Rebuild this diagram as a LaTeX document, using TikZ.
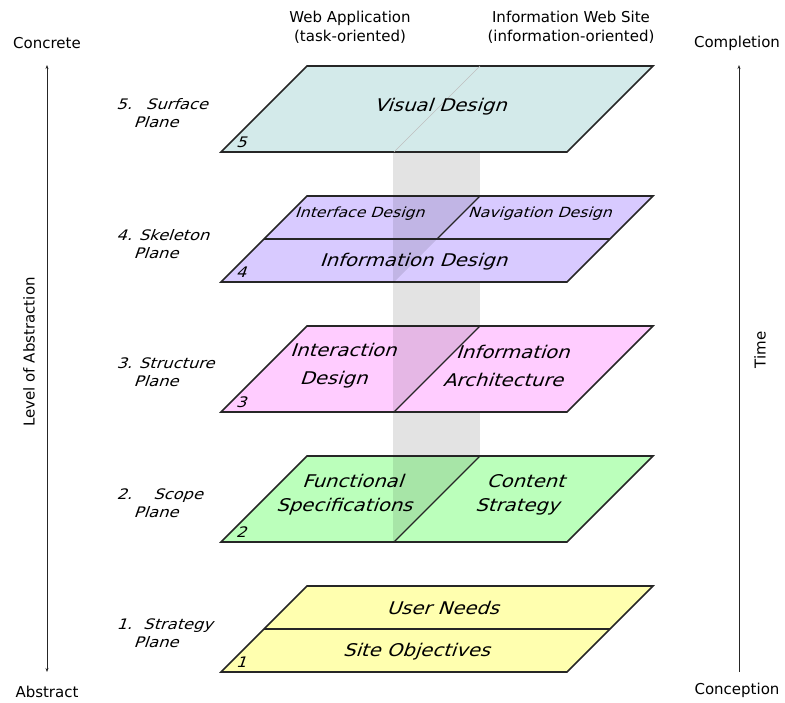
\documentclass[tikz,border=0pt]{standalone}
\usepackage{fontspec}
\setmainfont{DejaVu Sans}
\usetikzlibrary{arrows.meta}

\definecolor{surfacecol}{RGB}{211,234,234}
\definecolor{skeletoncol}{RGB}{216,202,255}
\definecolor{structurecol}{RGB}{255,204,255}
\definecolor{scopecol}{RGB}{187,255,187}
\definecolor{strategycol}{RGB}{255,255,175}
\definecolor{columncol}{RGB}{227,227,227}

\tikzset{
	plane/.style={draw=black!85, line width=1.6pt},
	divider/.style={draw=black!85, line width=1.1pt},
	shade/.style={fill=black, fill opacity=0.1},
	planetext/.style={font=\fontsize{17.5}{24}\selectfont, xslant=0.35, xscale=1.12, align=center, inner sep=0pt},
	widetext/.style={planetext, font=\fontsize{17.5}{28}\selectfont},
	subtext/.style={planetext, font=\fontsize{14}{16}\selectfont},
	layerlabel/.style={font=\fontsize{14.5}{18}\selectfont, xslant=0.35, xscale=1.12, align=left, anchor=west, inner sep=0pt},
	planenum/.style={font=\fontsize{14.5}{18}\selectfont, xslant=0.35, xscale=1.12, inner sep=0pt},
	heading/.style={font=\fontsize{15}{19}\selectfont, align=center, inner sep=0pt},
	axis/.style={line width=0.8pt, black!85}
}

\begin{document}
\begin{tikzpicture}[x=1pt, y=-1pt]
\useasboundingbox (0,0) rectangle (785,702);

% column between the two sides
\fill[columncol] (393,152) rectangle (480,456);

% 5 surface
\filldraw[plane, fill=surfacecol] (307,66) -- (653,66) -- (567,152) -- (221,152) -- cycle;
\draw[black!25, line width=0.6pt] (480,66) -- (394,152);

% 4 skeleton
\filldraw[plane, fill=skeletoncol] (307,196) -- (653,196) -- (567,282) -- (221,282) -- cycle;
\fill[shade] (393,196) -- (480,196) -- (394,282) -- (393,282) -- cycle;
\draw[divider] (264,239) -- (610,239);
\draw[divider] (480,196) -- (437,239);

% 3 structure
\filldraw[plane, fill=structurecol] (307,326) -- (653,326) -- (567,412) -- (221,412) -- cycle;
\fill[shade] (393,326) -- (480,326) -- (394,412) -- (393,412) -- cycle;
\draw[divider] (480,326) -- (394,412);

% 2 scope
\filldraw[plane, fill=scopecol] (307,456) -- (653,456) -- (567,542) -- (221,542) -- cycle;
\fill[shade] (393,456) -- (480,456) -- (394,542) -- (393,542) -- cycle;
\draw[divider] (480,456) -- (394,542);

% 1 strategy
\filldraw[plane, fill=strategycol] (307,586) -- (653,586) -- (567,672) -- (221,672) -- cycle;
\draw[divider] (264,629) -- (610,629);

% texts on the planes
\node[planetext] (visual) at (442,107) {Visual Design};
\node[subtext] (interface) at (361,214) {Interface Design};
\node[subtext] (navigation) at (541,214) {Navigation Design};
\node[planetext] (infodesign) at (415,262) {Information Design};
\node[widetext] (interaction) at (340,366) {Interaction\\Design};
\node[widetext] (infoarch) at (510,366) {Information\\Architecture};
\node[planetext] (functional) at (350,495) {Functional\\Specifications};
\node[planetext] (content) at (523,495) {Content\\Strategy};
\node[planetext] (userneeds) at (445,608) {User Needs};
\node[planetext] (siteobj) at (418,652) {Site Objectives};

\node[planenum] (num5) at (243,142) {5};
\node[planenum] (num4) at (243,272) {4};
\node[planenum] (num3) at (243,402) {3};
\node[planenum] (num2) at (243,532) {2};
\node[planenum] (num1) at (243,662) {1};

% layer names
\node[layerlabel] (lbl5) at (115,113) {5.\hspace{12.5pt}Surface\\\hspace*{21pt}Plane};
\node[layerlabel] (lbl4) at (115,244) {4. Skeleton\\\hspace*{21pt}Plane};
\node[layerlabel] (lbl3) at (115,372) {3. Structure\\\hspace*{21pt}Plane};
\node[layerlabel] (lbl2) at (115,503) {2.\hspace{19pt}Scope\\\hspace*{21pt}Plane};
\node[layerlabel] (lbl1) at (115,633) {1.\hspace{10pt}Strategy\\\hspace*{21pt}Plane};

% headings
\node[heading] (webapp) at (350,27) {Web Application\\(task-oriented)};
\node[heading] (infosite) at (571,27) {Information Web Site\\(information-oriented)};

% abstraction axis
\node[heading] (concrete) at (47,43) {Concrete};
\node[heading] (abstract) at (47,692) {Abstract};
\coordinate (abstop) at (47,65);
\coordinate (absbot) at (47,672);
\draw[axis, {Stealth[length=4pt,width=3pt]}-{Stealth[length=4pt,width=3pt]}] (abstop) -- (absbot);
\node[heading, rotate=90] (levelabs) at (29,352) {Level of Abstraction};

% time axis
\node[heading] (completion) at (737,43) {Completion};
\node[heading] (conception) at (737,690) {Conception};
\coordinate (timetop) at (739,65);
\coordinate (timebot) at (739,672);
\draw[axis, -{Stealth[length=4pt,width=3pt]}] (timebot) -- (timetop);
\node[heading, rotate=90] (timelbl) at (760,350) {Time};
\end{tikzpicture}
\end{document}
